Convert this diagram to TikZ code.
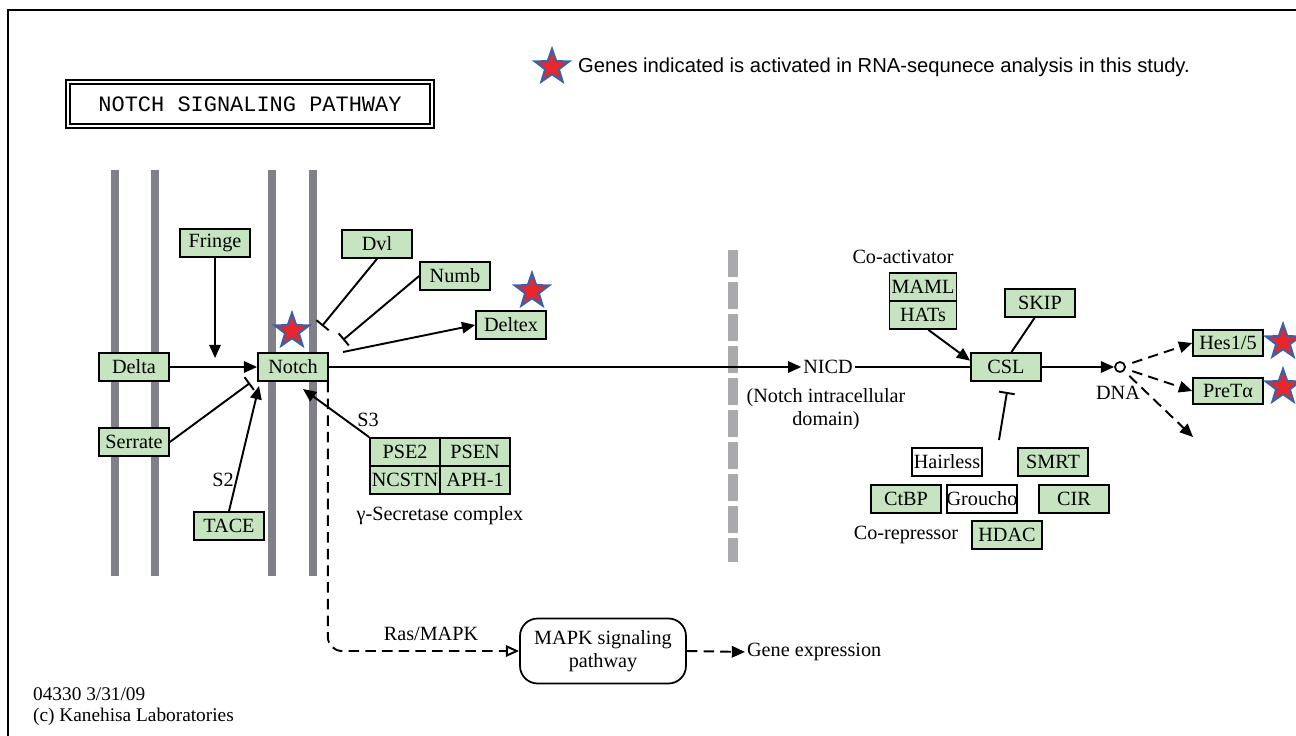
\documentclass[tikz,border=0pt]{standalone}
\usepackage{fontspec}
\setmainfont{Liberation Serif}
\newfontfamily\keysans{Liberation Sans}
\newfontfamily\titlemono{Liberation Mono}
\usetikzlibrary{arrows.meta,shapes.geometric}
\definecolor{keggreen}{RGB}{198,228,192}
\definecolor{membgray}{RGB}{128,128,136}
\definecolor{nucgray}{RGB}{170,170,172}
\definecolor{starred}{RGB}{232,38,43}
\definecolor{starblue}{RGB}{59,98,168}

\begin{document}
\begin{tikzpicture}[x=0.02cm,y=-0.02cm,
	every node/.style={font=\fontsize{11.5}{13}\selectfont},
	gene/.style={draw,fill=keggreen,line width=1pt,minimum width=1.4cm,minimum height=0.56cm,inner sep=0pt},
	wbox/.style={gene,fill=white},
	txt/.style={inner sep=1pt},
	conn/.style={line width=1.1pt},
	arr/.style={conn,-{Triangle[length=7.5pt,width=6.5pt]}},
	inh/.style={conn,-{Bar[width=9pt,line width=1.1pt]}},
	dashconn/.style={conn,dash pattern=on 6pt off 3.5pt},
	membrane/.style={membgray,line width=0.15cm},
	hit/.style={star,star points=5,star point ratio=2.5,minimum size=0.72cm,inner sep=0pt,fill=starred,draw=starblue,line width=1.2pt}
	]
	\useasboundingbox (0,0) rectangle (1296,736);
	% frame
	\draw[line width=1.5pt] (8,736) -- (8,10) -- (1296,10);

	% title and key
	\node[draw,line width=1pt,double,double distance=1.2pt,minimum width=7.28cm,minimum height=0.88cm,
		font=\titlemono\fontsize{12.5}{14}\selectfont] (title) at (250,104) {NOTCH SIGNALING PATHWAY};
	\node[hit] (starkey) at (552,67) {};
	\node[txt,anchor=west,font=\keysans\fontsize{11.5}{13}\selectfont] (key) at (576,67)
		{Genes indicated is activated in RNA-sequnece analysis in this study.};

	% cell membranes
	\foreach \x in {115,155,272,313}
		\draw[membrane] (\x,170) -- (\x,576);
	% nuclear membrane
	\draw[nucgray,line width=0.2cm,dash pattern=on 0.54cm off 0.1cm] (733,250) -- (733,562);

	% ligand side
	\node[gene] (fringe) at (215,243) {Fringe};
	\node[gene] (delta) at (134,367) {Delta};
	\node[gene] (serrate) at (134,442) {Serrate};
	\node[gene] (tace) at (229,526) {TACE};
	\node[gene] (notch) at (293,367) {Notch};
	\node[hit] (starnotch) at (292,331) {};

	\node[gene] (dvl) at (377,244) {Dvl};
	\node[gene] (numb) at (455,276) {Numb};
	\node[gene] (deltex) at (511,325) {Deltex};
	\node[hit] (stardeltex) at (532,291) {};

	% gamma-secretase complex
	\node[gene] (pse2) at (405,452) {PSE2};
	\node[gene] (psen) at (475,452) {PSEN};
	\node[gene] (ncstn) at (405,480) {NCSTN};
	\node[gene] (aph) at (475,480) {APH-1};
	\node[txt] (gsec) at (440,516) {γ-Secretase complex};
	\node[txt] (s3) at (368,420) {S3};

	\coordinate (fringetip) at (215,358);
	\coordinate (serbar) at (250,383);
	\coordinate (tacetip) at (259,386);
	\coordinate (s3tip) at (303,389);
	\coordinate (dvlbar) at (322,326);
	\coordinate (numbbar) at (343,340);
	\coordinate (dxstart) at (343,352);

	\draw[arr] (fringe) -- (fringetip);
	\draw[arr] (delta) -- (notch);
	\draw[inh] (serrate.east) -- (serbar);
	\draw[arr] (tace.north) -- node[pos=0.25,left,txt] (s2) {S2} (tacetip);
	\draw[arr] (pse2.north west) -- (s3tip);
	\draw[inh] (dvl.south) -- (dvlbar);
	\draw[inh] (numb.west) -- (numbbar);
	\draw[arr] (dxstart) -- (deltex.west);

	% nucleus
	\node[txt] (nicd) at (828,367) {NICD};
	\node[txt,align=center] (nicdtxt) at (826,409) {(Notch intracellular\\domain)};
	\node[txt] (coact) at (903,257) {Co-activator};
	\node[gene,minimum width=1.34cm] (maml) at (923,287) {MAML};
	\node[gene,minimum width=1.34cm] (hats) at (923,315) {HATs};
	\node[gene] (skip) at (1040,303) {SKIP};
	\node[gene] (csl) at (1006,367) {CSL};
	\node[circle,draw,line width=1pt,minimum size=0.2cm,inner sep=0pt] (dna) at (1120,367) {};
	\node[txt] (dnatxt) at (1118,393) {DNA};
	\node[gene,minimum height=0.52cm] (hes) at (1228,343) {Hes1/5};
	\node[gene,minimum height=0.52cm] (pret) at (1228,391) {PreTα};
	\node[hit] (starhes) at (1283,342) {};
	\node[hit] (starpret) at (1283,387) {};
	\coordinate (dnaend) at (1193,437);

	\draw[arr] (notch.east) -- (nicd.west);
	\draw[conn] (nicd.east) -- (csl.west);
	\draw[arr] (hats.290) -- (csl.170);
	\draw[conn] (skip.250) -- (csl.70);
	\draw[arr] (csl.east) -- (dna.west);
	\draw[dashconn,-{Triangle[length=7.5pt,width=6.5pt]},shorten <=4pt] (dna) -- (hes.west);
	\draw[dashconn,-{Triangle[length=7.5pt,width=6.5pt]},shorten <=4pt] (dna) -- (pret.west);
	\draw[dashconn,-{Triangle[length=7.5pt,width=6.5pt]},shorten <=4pt] (dna) -- (dnaend);

	% co-repressors
	\node[wbox] (hairless) at (947,462) {Hairless};
	\node[gene] (smrt) at (1053,462) {SMRT};
	\node[gene] (ctbp) at (906,499) {CtBP};
	\node[wbox] (groucho) at (982,499) {Groucho};
	\node[gene] (cir) at (1074,499) {CIR};
	\node[gene] (hdac) at (1007,535) {HDAC};
	\node[txt] (corep) at (906,535) {Co-repressor};
	\coordinate (repstart) at (999,440);
	\coordinate (cslbar) at (1007,392);
	\draw[inh] (repstart) -- (cslbar);

	% MAPK branch
	\node[draw,line width=1pt,rounded corners=10pt,minimum width=3.32cm,minimum height=1.3cm,align=center] (mapk)
		at (603,651) {MAPK signaling\\pathway};
	\node[txt] (ras) at (431,634) {Ras/MAPK};
	\node[txt,anchor=west] (geneexp) at (745,652) {Gene expression};
	\draw[dashconn,rounded corners=8pt,-{Triangle[open,length=7.5pt,width=6.5pt]}]
		([xshift=-0.02cm]notch.south east) |- (mapk.west);
	\draw[dashconn,-{Triangle[length=7.5pt,width=6.5pt]}] (mapk.east) -- (geneexp.west);

	% footer
	\node[txt,anchor=west,align=left,font=\fontsize{11}{12}\selectfont] (stamp) at (31,707)
		{04330 3/31/09\\(c) Kanehisa Laboratories};
\end{tikzpicture}
\end{document}
